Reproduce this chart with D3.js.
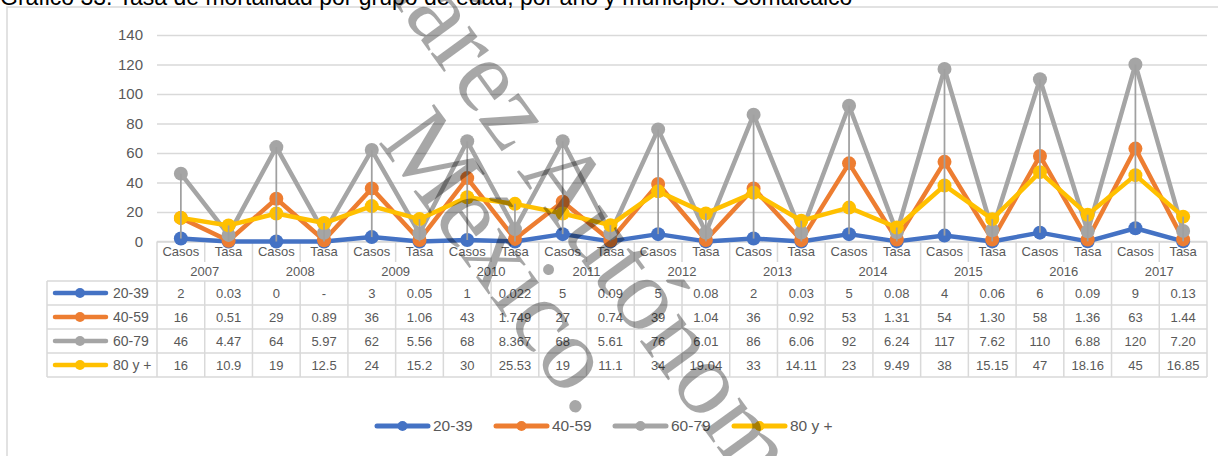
<!DOCTYPE html>
<html>
<head>
<meta charset="utf-8">
<script src="https://cdn.jsdelivr.net/npm/d3@7"></script>
<style>
  body { margin: 0; background: #fff; }
  svg { display: block; }
</style>
</head>
<body>
<svg id="chart" width="1218" height="456"></svg>
<script>
// ---- data ----
const title = "Gráfico 33. Tasa de mortalidad por grupo de edad, por año y municipio: Comalcalco";
const years = ["2007","2008","2009","2010","2011","2012","2013","2014","2015","2016","2017"];
const subCats = ["Casos","Tasa"];
const groups = ["20-39","40-59","60-79","80 y +"];
const yTicks = [0,20,40,60,80,100,120,140];

const casos2039 = [2,0,3,1,5,5,2,5,4,6,9];
const tasa2039  = ["0.03","-","0.05","0.022","0.09","0.08","0.03","0.08","0.06","0.09","0.13"];
const casos4059 = [16,29,36,43,27,39,36,53,54,58,63];
const tasa4059  = ["0.51","0.89","1.06","1.749","0.74","1.04","0.92","1.31","1.30","1.36","1.44"];
const casos6079 = [46,64,62,68,68,76,86,92,117,110,120];
const tasa6079  = ["4.47","5.97","5.56","8.367","5.61","6.01","6.06","6.24","7.62","6.88","7.20"];
const casos80   = [16,19,24,30,19,34,33,23,38,47,45];
const tasa80    = ["10.9","12.5","15.2","25.53","11.1","19.04","14.11","9.49","15.15","18.16","16.85"];

const colors = ["#4472C4","#ED7D31","#A5A5A5","#FFC000"];

// ---- layout ----
const svg = d3.select("#chart");
const plotLeft = 157, plotRight = 1207, yZero = 241.5, yTop = 35;
const tableLeft = 47, hdrMid = 262, hdrBot = 281, rowH = 24;
const txt = "#595959", rule = "#d9d9d9";
const sans = "'Liberation Sans', Arial, sans-serif";

const cats = years.flatMap(yr => subCats.map(s => ({ year: yr, sub: s })));
const x = d3.scaleBand().domain(d3.range(cats.length)).range([plotLeft, plotRight]);
const cx = i => x(i) + x.bandwidth() / 2;
const y = d3.scaleLinear().domain([0, 140]).range([yZero, yTop]);

// "-" in the table is plotted at zero
const toNum = s => (s === "-" ? 0 : +s);
const seriesSrc = [
  [casos2039, tasa2039], [casos4059, tasa4059], [casos6079, tasa6079], [casos80, tasa80]
];
const series = groups.map((g, gi) => {
  const [c, t] = seriesSrc[gi];
  return {
    name: g,
    color: colors[gi],
    values: cats.map((d, i) => (i % 2 === 0 ? c[i >> 1] : toNum(t[i >> 1]))),
    labels: cats.map((d, i) => (i % 2 === 0 ? String(c[i >> 1]) : t[i >> 1]))
  };
});

// chart frame
svg.append("rect")
  .attr("x", 7).attr("y", 7).attr("width", 1240).attr("height", 480)
  .attr("fill", "none").attr("stroke", rule).attr("stroke-width", 1.5);

// title
svg.append("text")
  .attr("x", 0).attr("y", 4.6)
  .style("font", `23px ${sans}`).attr("fill", "#000")
  .text(title);

// value axis with gridlines
const yAxisG = svg.append("g")
  .attr("transform", `translate(${plotLeft},0)`)
  .call(d3.axisLeft(y).tickValues(yTicks).tickSize(-(plotRight - plotLeft)).tickPadding(14));
yAxisG.select(".domain").remove();
yAxisG.selectAll(".tick line").attr("stroke", rule).attr("stroke-width", 1.5);
yAxisG.selectAll(".tick text").attr("fill", txt).style("font", `15px ${sans}`);

// ---- data table under the axis ----
const tbl = svg.append("g").attr("stroke", rule).attr("stroke-width", 1.5);
const tableBottom = hdrBot + rowH * groups.length;
tbl.append("line").attr("x1", plotLeft).attr("x2", plotRight).attr("y1", yZero).attr("y2", yZero);
d3.range(groups.length + 1).forEach(r => {
  const yy = hdrBot + r * rowH;
  tbl.append("line").attr("x1", tableLeft).attr("x2", plotRight).attr("y1", yy).attr("y2", yy);
});
tbl.append("line").attr("x1", tableLeft).attr("x2", tableLeft).attr("y1", hdrBot).attr("y2", tableBottom);
d3.range(cats.length + 1).forEach(k => {
  const xx = k === cats.length ? plotRight : x(k);
  if (k % 2 === 0) {
    tbl.append("line").attr("x1", xx).attr("x2", xx).attr("y1", yZero).attr("y2", tableBottom);
  } else {
    tbl.append("line").attr("x1", xx).attr("x2", xx).attr("y1", yZero).attr("y2", hdrMid);
    tbl.append("line").attr("x1", xx).attr("x2", xx).attr("y1", hdrBot).attr("y2", tableBottom);
  }
});

const tt = svg.append("g").attr("fill", txt).attr("text-anchor", "middle")
  .style("font", `13px ${sans}`);
cats.forEach((c, i) => {
  tt.append("text").attr("x", cx(i)).attr("y", (yZero + hdrMid) / 2).attr("dy", "0.35em").text(c.sub);
});
years.forEach((yr, j) => {
  tt.append("text").attr("x", x(2 * j + 1)).attr("y", (hdrMid + hdrBot) / 2).attr("dy", "0.35em").text(yr);
});
series.forEach((s, si) => {
  const rowMid = hdrBot + si * rowH + rowH / 2;
  s.labels.forEach((lab, i) => {
    tt.append("text").attr("x", cx(i)).attr("y", rowMid).attr("dy", "0.35em").text(lab);
  });
  // legend key inside the table
  const key = svg.append("g").attr("transform", `translate(0,${rowMid})`);
  key.append("line").attr("x1", 55).attr("x2", 106).attr("y1", 0).attr("y2", 0)
    .attr("stroke", s.color).attr("stroke-width", 4.5).attr("stroke-linecap", "round");
  key.append("circle").attr("cx", 80).attr("cy", 0).attr("r", 5).attr("fill", s.color);
  key.append("text").attr("x", 113).attr("y", 0).attr("dy", "0.35em")
    .attr("fill", txt).style("font", `14px ${sans}`).text(s.name);
});

// ---- series lines and markers ----
const line = d3.line().x((d, i) => cx(i)).y(d => y(d));
series.forEach(s => {
  const g = svg.append("g");
  g.append("path").attr("d", line(s.values)).attr("fill", "none")
    .attr("stroke", s.color).attr("stroke-width", 4.5).attr("stroke-linejoin", "round");
  g.selectAll("circle").data(s.values).join("circle")
    .attr("cx", (d, i) => cx(i)).attr("cy", d => y(d)).attr("r", 7).attr("fill", s.color);
});

// high-low lines
cats.forEach((c, i) => {
  const vals = series.map(s => s.values[i]);
  svg.append("line")
    .attr("x1", cx(i)).attr("x2", cx(i))
    .attr("y1", y(d3.min(vals))).attr("y2", y(d3.max(vals)))
    .attr("stroke", "#a0a0a0").attr("stroke-width", 1.75);
});

// ---- legend ----
const legendY = 426, legendStart = 377, legendStep = 119;
series.forEach((s, si) => {
  const g = svg.append("g").attr("transform", `translate(${legendStart + si * legendStep},${legendY})`);
  g.append("line").attr("x1", 0).attr("x2", 51).attr("y1", 0).attr("y2", 0)
    .attr("stroke", s.color).attr("stroke-width", 5).attr("stroke-linecap", "round");
  g.append("circle").attr("cx", 25.5).attr("cy", 0).attr("r", 5).attr("fill", s.color);
  g.append("text").attr("x", 56).attr("y", 0).attr("dy", "0.35em")
    .attr("fill", txt).style("font", `15.5px ${sans}`).text(s.name);
});

// ---- watermark ----
const wm = svg.append("g").attr("transform", "rotate(54)")
  .attr("fill", "#000").attr("opacity", 0.34)
  .style("font", "104px 'Liberation Serif', 'Times New Roman', serif")
  .attr("text-anchor", "middle");
wm.append("text").attr("x", 508).attr("y", -317).text("Universidad Juárez Autónoma de Tabasco.");
wm.append("text").attr("x", 508).attr("y", -222).text("México.");
</script>
</body>
</html>
